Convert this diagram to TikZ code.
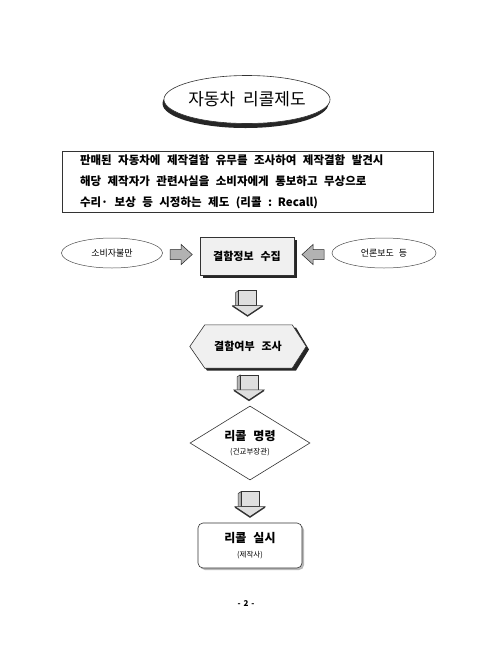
\documentclass[tikz,border=0pt]{standalone}
\usepackage{fontspec}
\setmainfont{Noto Sans CJK KR}
\usetikzlibrary{shapes.geometric,calc}
\tikzset{
  shadowfill/.style={fill=black!85},
  harrow/.style={fill=gray!60, draw=gray!30!black, line width=0.5pt},
  dshaft/.style={fill=gray!25, draw=gray!40!black, line width=0.5pt},
  dside/.style={fill=gray!55, draw=gray!40!black, line width=0.5pt},
  thinbox/.style={draw=black!80, line width=0.6pt},
  lbl/.style={font=\fontsize{11}{13}\selectfont\bfseries, align=center, inner sep=0pt},
}
\newcommand{\downarr}[1]{%
  \begin{scope}[shift={(#1)}]
    \filldraw[dside] (-12,-10) -- (-9,-12) -- (-9,3) -- (-12,4) -- cycle;
    \filldraw[dshaft] (-9,-12) -- (9,-12) -- (9,3) -- (-9,3) -- cycle;
    \filldraw[dshaft] (-15,3) -- (15,3) -- (0,13) -- cycle;
    \draw[gray!40!black, line width=1.2pt] (-15,3.5) -- (0,13.5) -- (15,3.5);
  \end{scope}}
\begin{document}
\begin{tikzpicture}[x=1pt,y=-1pt]
\useasboundingbox[fill=white] (0,0) rectangle (480,657);

% title
\fill[shadowfill] (245.5,103.5) ellipse [x radius=83, y radius=24.5];
\node[ellipse, thinbox, fill=white, minimum width=166pt, minimum height=48pt,
      font=\fontsize{17}{20}\selectfont, inner sep=0pt] (title) at (247,99.5)
      {자동차\hspace{8pt}리콜제도};

% description
\node[thinbox, minimum width=371pt, minimum height=59pt, inner xsep=18pt,
      text width=335pt, align=left,
      font=\fontsize{11.5}{21}\selectfont\bfseries] (desc) at (247.5,181.5)
      {\spaceskip=6.5pt
       판매된 자동차에 제작결함 유무를 조사하여 제작결함 발견시\\
       해당 제작자가 관련사실을 소비자에게 통보하고 무상으로\\
       수리· 보상 등 시정하는 제도 (리콜 : Recall)};

% side ellipses
\node[ellipse, draw=black!70, line width=0.5pt, minimum width=101pt, minimum height=30pt,
      font=\fontsize{9}{11}\selectfont] (consumer) at (112,253) {소비자불만};
\node[ellipse, draw=black!70, line width=0.5pt, minimum width=104pt, minimum height=30pt,
      font=\fontsize{9}{11}\selectfont] (press) at (384,253) {언론보도\hspace{5pt}등};

% collect box
\fill[shadowfill] (202.5,239.5) rectangle (296.5,277.5);
\node[thinbox, fill=gray!12, minimum width=94pt, minimum height=38pt, lbl] (collect)
      at (247,256) {결함정보\hspace{7pt}수집};

% horizontal block arrows
\coordinate (ha1) at ($(consumer.east)!0.5!(collect.west)$);
\coordinate (ha2) at ($(press.west)!0.5!(collect.east)$);
\filldraw[harrow, shift={(ha1)}] (-11,-5) -- (0,-5) -- (0,-10) -- (11,0) -- (0,10) -- (0,5) -- (-11,5) -- cycle;
\filldraw[harrow, shift={(ha2)}] (11,-5) -- (0,-5) -- (0,-10) -- (-11,0) -- (0,10) -- (0,5) -- (11,5) -- cycle;

% hexagon: defect check
\node[minimum width=90pt, minimum height=43pt, inner sep=0pt] (check) at (248,346.5) {};
\fill[shadowfill] (192,349.5) -- (207,327.5) -- (296,327.5) -- (309,349.5) -- (296,370.5) -- (207,370.5) -- cycle;
\filldraw[thinbox, fill=gray!12] (check.west) ++(-13,0) -- ($(check.north west)+(2,0)$) -- ($(check.north east)+(-1,0)$)
   -- ($(check.east)+(13,0)$) -- ($(check.south east)+(-1,0)$) -- ($(check.south west)+(2,0)$) -- cycle;
\node[lbl] (checktext) at (check) {결함여부\hspace{7pt}조사};

% diamond: recall order
\node[diamond, thinbox, fill=white, minimum width=120pt, minimum height=74pt, aspect=1.6,
      inner sep=0pt, align=center] (order) at (250,443)
      {{\fontsize{12}{14}\selectfont\bfseries 리콜\hspace{7pt}명령}\\[2pt]{\fontsize{7.5}{9}\selectfont (건교부장관)}};

% rounded box: recall execution
\fill[gray!55, rounded corners=5pt] (200,525) rectangle (304,570);
\node[thinbox, fill=white, rounded corners=5pt, minimum width=104pt, minimum height=45pt,
      align=center, inner sep=0pt] (exec) at (250,545.5)
      {{\fontsize{12}{14}\selectfont\bfseries 리콜\hspace{7pt}실시}\\[3pt]{\fontsize{7.5}{9}\selectfont (제작사)}};

% down arrows
\coordinate (da1) at ($(collect.south)!0.55!(check.north)$);
\coordinate (da2) at ($(check.south)!0.5!(order.north)$);
\coordinate (da3) at ($(order.south)!0.55!(exec.north)$);
\downarr{da1}
\downarr{da2}
\downarr{da3}

% page number
\node[font=\fontsize{8}{10}\selectfont\bfseries] (page) at (246,604) {-\hspace{3pt}2\hspace{3pt}-};
\end{tikzpicture}
\end{document}
